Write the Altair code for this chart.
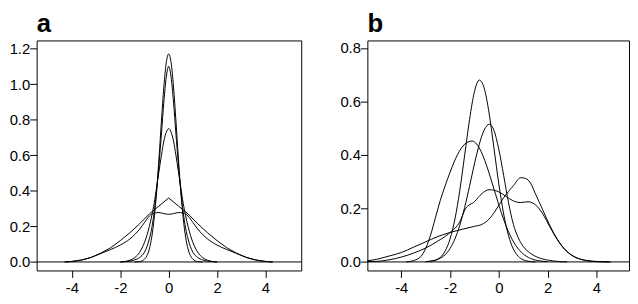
import altair as alt
import pandas as pd

# ---------------- panel a (symmetric densities) ----------------
a1_x = [-1.4, -1.2, -1.0, -0.9, -0.8, -0.7, -0.6, -0.5, -0.4, -0.3, -0.2, -0.1, 0.0,
        0.1, 0.2, 0.3, 0.4, 0.5, 0.6, 0.7, 0.8, 0.9, 1.0, 1.2, 1.4]
a1_y = [0.0, 0.002, 0.016, 0.035, 0.073, 0.14, 0.247, 0.397, 0.585, 0.793, 0.984, 1.121, 1.17,
        1.121, 0.984, 0.793, 0.585, 0.397, 0.247, 0.14, 0.073, 0.035, 0.016, 0.002, 0.0]

a2_x = [-2.0, -1.8, -1.6, -1.4, -1.2, -1.0, -0.9, -0.8, -0.7, -0.6, -0.5, -0.4, -0.3, -0.2, -0.1, 0.0,
        0.1, 0.2, 0.3, 0.4, 0.5, 0.6, 0.7, 0.8, 0.9, 1.0, 1.2, 1.4, 1.6, 1.8, 2.0]
a2_y = [0.0, 0.002, 0.005, 0.012, 0.025, 0.055, 0.085, 0.13, 0.19, 0.28, 0.40, 0.55, 0.72, 0.90, 1.04, 1.10,
        1.04, 0.90, 0.72, 0.55, 0.40, 0.28, 0.19, 0.13, 0.085, 0.055, 0.025, 0.012, 0.005, 0.002, 0.0]

a3_x = [-2.0, -1.8, -1.6, -1.4, -1.2, -1.0, -0.9, -0.8, -0.7, -0.6, -0.5, -0.4, -0.3, -0.2, -0.1, 0.0,
        0.1, 0.2, 0.3, 0.4, 0.5, 0.6, 0.7, 0.8, 0.9, 1.0, 1.2, 1.4, 1.6, 1.8, 2.0]
a3_y = [0.0, 0.003, 0.01, 0.025, 0.055, 0.11, 0.15, 0.20, 0.26, 0.33, 0.42, 0.51, 0.60, 0.68, 0.73, 0.75,
        0.73, 0.68, 0.60, 0.51, 0.42, 0.33, 0.26, 0.20, 0.15, 0.11, 0.055, 0.025, 0.01, 0.003, 0.0]

a4_x = [-4.3, -4.0, -3.6, -3.2, -2.8, -2.4, -2.0, -1.6, -1.2, -0.8, -0.4, 0.0,
        0.4, 0.8, 1.2, 1.6, 2.0, 2.4, 2.8, 3.2, 3.6, 4.0, 4.3]
a4_y = [0.0, 0.003, 0.011, 0.026, 0.05, 0.08, 0.12, 0.165, 0.215, 0.27, 0.315, 0.36,
        0.315, 0.27, 0.215, 0.165, 0.12, 0.08, 0.05, 0.026, 0.011, 0.003, 0.0]

a5_x = [-4.3, -4.0, -3.6, -3.2, -2.8, -2.4, -2.0, -1.6, -1.2, -1.0, -0.8, -0.6, -0.4, -0.2, 0.0,
        0.2, 0.4, 0.6, 0.8, 1.0, 1.2, 1.6, 2.0, 2.4, 2.8, 3.2, 3.6, 4.0, 4.3]
a5_y = [0.0, 0.003, 0.011, 0.026, 0.048, 0.07, 0.095, 0.13, 0.185, 0.222, 0.258, 0.275, 0.278, 0.272, 0.268,
        0.272, 0.278, 0.275, 0.258, 0.222, 0.185, 0.13, 0.095, 0.07, 0.048, 0.026, 0.011, 0.003, 0.0]

# ---------------- panel b (shifted / skewed densities) ----------------
b1_x = [-3.0, -2.6, -2.2, -2.0, -1.8, -1.6, -1.4, -1.2, -1.0, -0.8, -0.6, -0.4, -0.2,
        0.0, 0.2, 0.4, 0.6, 0.8, 1.0, 1.2, 1.5]
b1_y = [0.001, 0.007, 0.041, 0.086, 0.16, 0.267, 0.399, 0.532, 0.636, 0.68, 0.65, 0.557, 0.426,
        0.292, 0.179, 0.098, 0.048, 0.021, 0.008, 0.003, 0.0]

b2_x = [-3.0, -2.7, -2.4, -2.2, -2.0, -1.8, -1.6, -1.4, -1.2, -1.0, -0.8, -0.6, -0.38, -0.2,
        0.0, 0.2, 0.4, 0.6, 0.8, 1.0, 1.3, 1.6, 2.0, 2.4, 2.8]
b2_y = [0.001, 0.004, 0.014, 0.027, 0.05, 0.086, 0.137, 0.204, 0.283, 0.366, 0.44, 0.493, 0.515, 0.492,
        0.421, 0.323, 0.221, 0.14, 0.09, 0.058, 0.032, 0.017, 0.007, 0.002, 0.0]

b3_x = [-3.8, -3.5, -3.2, -3.0, -2.8, -2.6, -2.4, -2.2, -2.0, -1.7, -1.4, -1.1, -0.8, -0.5, -0.2,
        0.1, 0.4, 0.7, 1.0, 1.3, 1.6, 2.0]
b3_y = [0.0, 0.005, 0.02, 0.05, 0.10, 0.165, 0.23, 0.285, 0.335, 0.40, 0.44, 0.452, 0.426, 0.36, 0.273,
        0.185, 0.112, 0.061, 0.03, 0.013, 0.005, 0.001]

b4_x = [-5.4, -5.0, -4.5, -4.0, -3.5, -3.0, -2.5, -2.0, -1.6, -1.36, -1.0, -0.7, -0.4, -0.2, 0.0, 0.3,
        0.6, 0.9, 1.2, 1.4, 1.6, 1.8, 2.1, 2.4, 2.7, 3.0, 3.4, 4.0, 4.5]
b4_y = [0.001, 0.002, 0.008, 0.018, 0.033, 0.052, 0.078, 0.11, 0.15, 0.2, 0.225, 0.255, 0.27, 0.268, 0.262, 0.245,
        0.228, 0.222, 0.225, 0.22, 0.205, 0.18, 0.13, 0.083, 0.047, 0.024, 0.009, 0.001, 0.0]

b5_x = [-5.4, -5.0, -4.5, -4.0, -3.5, -3.0, -2.5, -2.0, -1.5, -1.0, -0.7, -0.4, -0.15, 0.2, 0.6, 0.9,
        1.1, 1.3, 1.5, 1.8, 2.1, 2.4, 2.7, 3.0, 3.4, 4.0, 4.6]
b5_y = [0.004, 0.01, 0.022, 0.035, 0.055, 0.075, 0.095, 0.11, 0.122, 0.133, 0.14, 0.16, 0.19, 0.24, 0.285, 0.315,
        0.312, 0.295, 0.255, 0.195, 0.135, 0.085, 0.048, 0.025, 0.009, 0.002, 0.0]

x_ticks = [-4, -2, 0, 2, 4]
ya_ticks = [0.0, 0.2, 0.4, 0.6, 0.8, 1.0, 1.2]
yb_ticks = [0.0, 0.2, 0.4, 0.6, 0.8]


def long_frame(curves):
    rows = []
    for name, xs, ys in curves:
        for i, (xv, yv) in enumerate(zip(xs, ys)):
            rows.append({"curve": name, "i": i, "x": xv, "y": yv})
    return pd.DataFrame(rows)


FONT = "Liberation Sans"


def panel(smooth, linear, xdom, ydom, yticks, label, w, h):
    xsc = alt.Scale(domain=xdom, nice=False, zero=False)
    ysc = alt.Scale(domain=ydom, nice=False, zero=False)
    xax = alt.Axis(values=x_ticks, title=None, grid=False, domain=False, tickSize=7,
                   tickColor="black", labelColor="black", labelFont=FONT, labelFontSize=15,
                   labelPadding=3, labelExpr="replace(datum.label, '\u2212', '-')")
    yax = alt.Axis(values=yticks, title=None, grid=False, domain=False, tickSize=7, format=".1f",
                   tickColor="black", labelColor="black", labelFont=FONT, labelFontSize=15,
                   labelPadding=0)
    layers = []
    layers.append(
        alt.Chart(smooth).mark_line(color="black", strokeWidth=1, interpolate="monotone", clip=True)
        .encode(x=alt.X("x:Q", scale=xsc, axis=xax), y=alt.Y("y:Q", scale=ysc, axis=yax),
                detail="curve:N", order="i:Q")
    )
    if linear is not None:
        layers.append(
            alt.Chart(linear).mark_line(color="black", strokeWidth=1, clip=True)
            .encode(x=alt.X("x:Q", scale=xsc, axis=xax), y=alt.Y("y:Q", scale=ysc, axis=yax),
                    detail="curve:N", order="i:Q")
        )
    layers.append(
        alt.Chart(pd.DataFrame({"y": [0.0]})).mark_rule(color="black", strokeWidth=1)
        .encode(y=alt.Y("y:Q", scale=ysc, axis=yax))
    )
    return alt.layer(*layers).properties(
        width=w, height=h,
        title=alt.TitleParams(label, anchor="start", frame="group", fontSize=26, fontWeight="bold",
                              font=FONT, color="black", offset=4),
    )


df_a_smooth = long_frame([("a1", a1_x, a1_y), ("a2", a2_x, a2_y), ("a3", a3_x, a3_y), ("a5", a5_x, a5_y)])
df_a_lin = long_frame([("a4", a4_x, a4_y)])
df_b = long_frame([("b1", b1_x, b1_y), ("b2", b2_x, b2_y), ("b3", b3_x, b3_y),
                   ("b4", b4_x, b4_y), ("b5", b5_x, b5_y)])

pa = panel(df_a_smooth, df_a_lin, [-5.46, 5.48], [-0.048, 1.246], ya_ticks, "a", 268, 233)
pb = panel(df_b, None, [-5.39, 5.34], [-0.032, 0.828], yb_ticks, "b", 265, 233)

chart = alt.hconcat(pa, pb, spacing=67, bounds="flush").configure_view(
    stroke="black", strokeWidth=1
).properties(padding={"left": 0, "top": 0, "right": 0, "bottom": 0})

chart.save("out.html", embed_options={"renderer": "svg", "actions": False})
